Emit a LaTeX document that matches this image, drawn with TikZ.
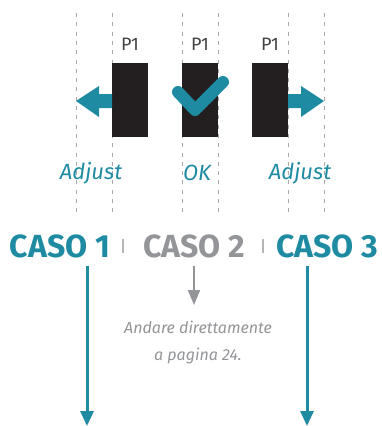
\documentclass[tikz,border=0pt]{standalone}
\usepackage{fontspec}
\setmainfont{Fira Sans}
\usepackage{tikz}
\usetikzlibrary{arrows.meta}
\definecolor{casoteal}{HTML}{1E8BA2}
\definecolor{casogray}{HTML}{939598}
\definecolor{guidegray}{HTML}{AAAAAA}
\definecolor{pagedark}{HTML}{231F20}

\tikzset{
  guide/.style={draw=guidegray, line width=1pt, dash pattern=on 4pt off 5.3pt},
  pagebox/.style={fill=pagedark, draw=none},
  pagelbl/.style={text=pagedark!85!white, font=\fontsize{18}{18}\selectfont, inner sep=0pt},
  casotext/.style={font=\fontsize{32}{32}\bfseries\selectfont, inner sep=0pt},
  moveword/.style={text=casoteal, font=\fontsize{22}{22}\itshape\selectfont, inner sep=0pt},
  sepbar/.style={draw=casogray!70!white, line width=1.2pt},
  flow/.style={draw=casoteal, line width=3pt, -{Triangle[width=13pt,length=15pt]}},
  skip/.style={draw=casogray, line width=2pt, -{Triangle[width=12pt,length=15pt]}}
}

\begin{document}
\begin{tikzpicture}[x=1pt, y=-1pt]
\useasboundingbox (0,0) rectangle (381,426);

% dashed guides
\foreach \gx in {76,112,182,218,288,324}
  \draw[guide] (\gx,13) -- (\gx,214);

% the three pages
\filldraw[pagebox] (112,63) rectangle (148,137);
\filldraw[pagebox] (182,63) rectangle (218,137);
\filldraw[pagebox] (252,63) rectangle (288,137);
\node[pagelbl] (p1a) at (130,44) {P1};
\node[pagelbl] (p1b) at (200,44) {P1};
\node[pagelbl] (p1c) at (270,44) {P1};

% shift arrows
\fill[casoteal] (112,94) -- (99,94) -- (99,86) -- (76,101) -- (99,117) -- (99,108) -- (112,108) -- cycle;
\fill[casoteal] (288,94) -- (301,94) -- (301,86) -- (324,101) -- (301,117) -- (301,108) -- (288,108) -- cycle;

% check mark
\draw[casoteal, line width=12pt, line cap=round, line join=round] (178,92) -- (195,110) -- (223,82);

\node[moveword] (adjl) at (91,173) {Adjust};
\node[moveword] (ok) at (197,173) {OK};
\node[moveword] (adjr) at (300,173) {Adjust};

% cases
\node[casotext, text=casoteal] (caso1) at (60,246) {CASO 1};
\node[casotext, text=casogray] (caso2) at (194,246) {CASO 2};
\node[casotext, text=casoteal] (caso3) at (327,246) {CASO 3};
\draw[sepbar] (123,239) -- (123,253);
\draw[sepbar] (263,239) -- (263,253);

\coordinate (end1) at (87,426);
\coordinate (end3) at (307,426);
\draw[flow] ([yshift=-8pt]caso1.south -| end1) -- (end1);
\draw[flow] ([yshift=-8pt]caso3.south -| end3) -- (end3);

\node[text=casogray, font=\fontsize{16}{27}\itshape\selectfont, align=center] (skipnote) at (198,342) {Andare direttamente\\a pagina 24.};
\coordinate (skipend) at (194,305);
\draw[skip] ([yshift=-8pt]caso2.south -| skipend) -- (skipend);
\end{tikzpicture}
\end{document}
